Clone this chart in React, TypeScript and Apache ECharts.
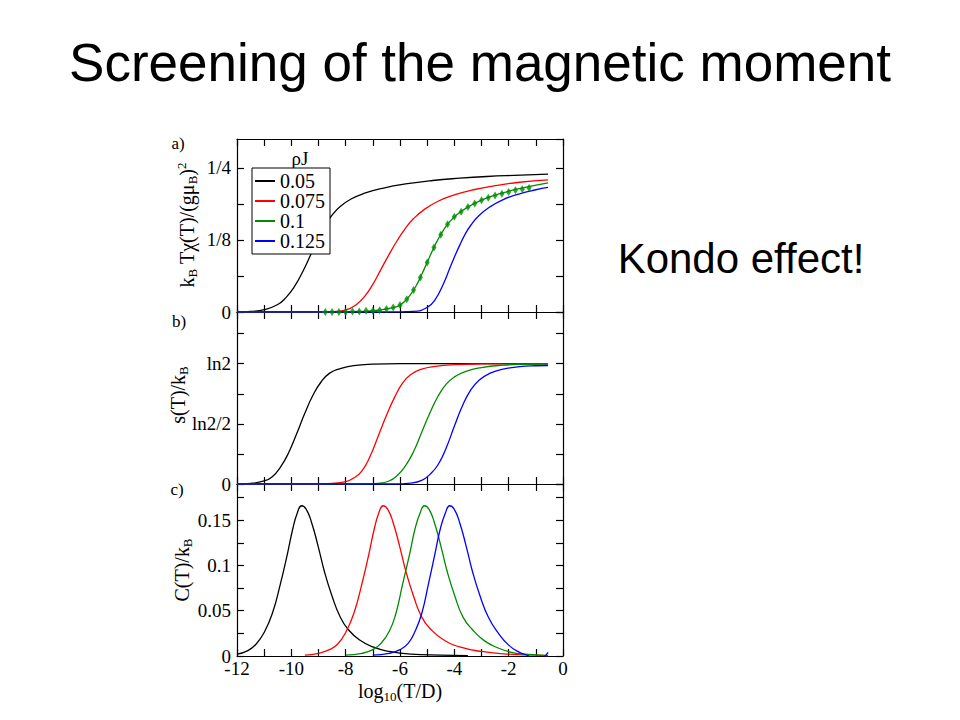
import React, { useEffect, useRef } from "react";
import * as echarts from "echarts";

// ---- categories / legend ----
const rhoJ = ["0.05", "0.075", "0.1", "0.125"];
const curveColors = ["#000000", "#ff0000", "#008b00", "#0000ff"];

// ---- x axis ----
const xMin = -12;
const xMax = 0;

// ---- panel a) k_B T chi(T)/(g mu_B)^2 ----
const chi005: [number, number][] = [
  [-12, 0.0], [-11.5, 0.001], [-11, 0.004], [-10.5, 0.013], [-10.2, 0.025], [-9.9, 0.043],
  [-9.6, 0.068], [-9.3, 0.098], [-9.05, 0.125], [-8.8, 0.148], [-8.5, 0.168], [-8.2, 0.183],
  [-7.8, 0.196], [-7.3, 0.206], [-6.6, 0.215], [-5.8, 0.222], [-4.8, 0.228], [-3.8, 0.232],
  [-2.8, 0.235], [-1.8, 0.237], [-0.55, 0.239],
];
const chi0075: [number, number][] = [
  [-12, 0], [-9, 0], [-8.3, 0.001], [-7.9, 0.005], [-7.6, 0.013], [-7.3, 0.027], [-7.0, 0.048],
  [-6.7, 0.074], [-6.4, 0.1], [-6.1, 0.124], [-5.8, 0.145], [-5.5, 0.162], [-5.1, 0.178],
  [-4.6, 0.192], [-4.0, 0.203], [-3.3, 0.212], [-2.5, 0.219], [-1.6, 0.225], [-0.55, 0.229],
];
const chi01: [number, number][] = [
  [-12, 0], [-8.8, 0], [-7.5, 0.001], [-6.8, 0.003], [-6.3, 0.007], [-6.0, 0.012], [-5.8, 0.02],
  [-5.6, 0.031], [-5.4, 0.046], [-5.2, 0.065], [-5.0, 0.086], [-4.8, 0.107], [-4.6, 0.126],
  [-4.4, 0.142], [-4.2, 0.155], [-3.9, 0.169], [-3.5, 0.182], [-3.0, 0.194], [-2.4, 0.204],
  [-1.7, 0.213], [-0.55, 0.224],
];
const chi0125: [number, number][] = [
  [-12, 0], [-6.5, 0], [-5.5, 0.001], [-5.0, 0.008], [-4.7, 0.022], [-4.4, 0.049], [-4.2, 0.072],
  [-4.0, 0.095], [-3.8, 0.116], [-3.6, 0.135], [-3.4, 0.15], [-3.1, 0.167], [-2.7, 0.182],
  [-2.2, 0.195], [-1.6, 0.205], [-1.0, 0.212], [-0.55, 0.216],
];
// NRG points (green markers) for rho J = 0.1
const chiMarkX = [
  -8.75, -8.5, -8.25, -8.0, -7.75, -7.5, -7.25, -7.0, -6.75, -6.5, -6.25, -6.0, -5.75, -5.5, -5.25,
  -5.0, -4.75, -4.5, -4.25, -4.0, -3.75, -3.5, -3.25, -3.0, -2.75, -2.5, -2.25, -2.0, -1.75, -1.5, -1.25,
];
const chiMarkY = [
  0, 0, 0, 0, 0.001, 0.001, 0.002, 0.002, 0.003, 0.005, 0.008, 0.012, 0.022, 0.038, 0.06, 0.086,
  0.112, 0.134, 0.152, 0.165, 0.174, 0.182, 0.188, 0.194, 0.198, 0.202, 0.205, 0.208, 0.211, 0.213, 0.215,
];
const chiTicks = ["0", "1/8", "1/4"];

// ---- panel b) s(T)/k_B, in units of ln2 ----
const s005: [number, number][] = [
  [-12, 0], [-11.5, 0.005], [-11, 0.025], [-10.7, 0.06], [-10.4, 0.14], [-10.1, 0.26], [-9.8, 0.42],
  [-9.5, 0.59], [-9.2, 0.74], [-8.9, 0.85], [-8.6, 0.92], [-8.2, 0.96], [-7.7, 0.985], [-7.0, 0.996],
  [-6.0, 1.0], [-0.55, 1.0],
];
const s0075: [number, number][] = [
  [-12, 0], [-9.2, 0], [-8.5, 0.005], [-8.0, 0.02], [-7.7, 0.05], [-7.4, 0.11], [-7.1, 0.23],
  [-6.8, 0.4], [-6.5, 0.57], [-6.2, 0.72], [-5.9, 0.84], [-5.6, 0.91], [-5.2, 0.955], [-4.7, 0.978],
  [-4.0, 0.992], [-3.0, 0.998], [-0.55, 1.0],
];
const s01: [number, number][] = [
  [-12, 0], [-7.5, 0], [-6.8, 0.006], [-6.4, 0.025], [-6.1, 0.07], [-5.8, 0.15], [-5.5, 0.27],
  [-5.2, 0.43], [-4.9, 0.59], [-4.6, 0.73], [-4.3, 0.83], [-4.0, 0.89], [-3.6, 0.935], [-3.0, 0.968],
  [-2.2, 0.988], [-1.4, 0.995], [-0.55, 0.997],
];
const s0125: [number, number][] = [
  [-12, 0], [-6.3, 0], [-5.6, 0.008], [-5.2, 0.03], [-4.9, 0.08], [-4.6, 0.16], [-4.3, 0.3],
  [-4.0, 0.48], [-3.7, 0.65], [-3.4, 0.78], [-3.1, 0.86], [-2.7, 0.92], [-2.2, 0.955], [-1.6, 0.975],
  [-1.0, 0.983], [-0.55, 0.985],
];
const sTicks = ["0", "ln2/2", "ln2"];

// ---- panel c) C(T)/k_B ----
const c005: [number, number][] = [
  [-12, 0.002], [-11.6, 0.006], [-11.3, 0.013], [-11.0, 0.026], [-10.7, 0.047], [-10.4, 0.08],
  [-10.15, 0.112], [-9.95, 0.14], [-9.78, 0.158], [-9.62, 0.166], [-9.45, 0.162], [-9.25, 0.147],
  [-9.02, 0.122], [-8.77, 0.092], [-8.5, 0.066], [-8.2, 0.043], [-7.9, 0.029], [-7.5, 0.018],
  [-7.0, 0.01], [-6.4, 0.005], [-5.6, 0.002], [-4.5, 0.001], [-3.5, 0.0005],
];
const c0075: [number, number][] = [
  [-9.5, 0.001], [-9.0, 0.003], [-8.6, 0.007], [-8.3, 0.013], [-8.0, 0.026], [-7.7, 0.047],
  [-7.4, 0.08], [-7.15, 0.112], [-6.95, 0.14], [-6.78, 0.158], [-6.62, 0.166], [-6.45, 0.162],
  [-6.25, 0.147], [-6.02, 0.122], [-5.77, 0.092], [-5.5, 0.066], [-5.2, 0.043], [-4.85, 0.029],
  [-4.4, 0.018], [-3.8, 0.01], [-3.0, 0.005], [-2.0, 0.002], [-1.0, 0.001], [-0.55, 0.0005],
];
const c01: [number, number][] = [
  [-8.0, 0.001], [-7.4, 0.003], [-7.0, 0.007], [-6.7, 0.014], [-6.4, 0.027], [-6.15, 0.047],
  [-5.9, 0.08], [-5.65, 0.112], [-5.45, 0.14], [-5.26, 0.158], [-5.1, 0.166], [-4.93, 0.162],
  [-4.73, 0.147], [-4.5, 0.122], [-4.25, 0.092], [-3.98, 0.066], [-3.68, 0.043], [-3.33, 0.029],
  [-2.9, 0.017], [-2.4, 0.009], [-1.9, 0.004], [-1.4, 0.002], [-0.55, 0.0005],
];
const c0125: [number, number][] = [
  [-7.0, 0.001], [-6.4, 0.003], [-6.0, 0.007], [-5.7, 0.014], [-5.45, 0.027], [-5.2, 0.047],
  [-4.95, 0.08], [-4.72, 0.112], [-4.52, 0.14], [-4.33, 0.158], [-4.17, 0.166], [-4.0, 0.162],
  [-3.8, 0.147], [-3.57, 0.122], [-3.32, 0.092], [-3.05, 0.066], [-2.75, 0.043], [-2.4, 0.026],
  [-2.0, 0.012], [-1.6, 0.004], [-1.3, 0.0005], [-1.0, -0.004], [-0.75, -0.002], [-0.55, 0.004],
];
const cTicks = ["0", "0.05", "0.1", "0.15"];

const SERIF = "Liberation Serif";
const SANS = "Liberation Sans";

export default function App() {
  const ref = useRef<HTMLDivElement>(null);

  useEffect(() => {
    if (!ref.current) return;
    const chart = echarts.init(ref.current, undefined, { renderer: "svg" });

    const gridL = 237;
    const gridW = 326;
    const tops = [139, 312, 484];
    const heights = [173, 172, 172];

    const near = (a: number, b: number) => Math.abs(a - b) < 1e-6;

    const yFormatters = [
      (v: number) => (near(v, 0) ? chiTicks[0] : near(v, 0.125) ? chiTicks[1] : near(v, 0.25) ? chiTicks[2] : ""),
      (v: number) => (near(v, 0) ? sTicks[0] : near(v, 0.5) ? sTicks[1] : near(v, 1) ? sTicks[2] : ""),
      (v: number) =>
        near(v, 0) ? cTicks[0] : near(v, 0.05) ? cTicks[1] : near(v, 0.1) ? cTicks[2] : near(v, 0.15) ? cTicks[3] : "",
    ];
    const yRanges = [
      { max: 0.3, interval: 0.0625 },
      { max: 1.43, interval: 0.25 },
      { max: 0.19, interval: 0.025 },
    ];

    const axisLine = { show: true, onZero: false, lineStyle: { color: "#000", width: 1.2 } };
    const axisTick = { show: true, inside: true, length: 7, lineStyle: { color: "#000", width: 1.2 } };
    const labelStyle = { color: "#000", fontFamily: SERIF, fontSize: 19 };

    const grids: any[] = [];
    const xAxes: any[] = [];
    const yAxes: any[] = [];
    for (let p = 0; p < 3; p++) {
      grids.push({ left: gridL, width: gridW, top: tops[p], height: heights[p], show: false });
      xAxes.push({
        type: "value", gridIndex: p, position: "bottom", min: xMin, max: xMax, interval: 1,
        axisLine, axisTick, splitLine: { show: false },
        axisLabel: {
          show: p === 2, ...labelStyle, margin: 3, showMinLabel: true, showMaxLabel: true,
          formatter: (v: number) => (Math.round(v) % 2 === 0 ? String(Math.round(v)) : ""),
        },
      });
      xAxes.push({
        type: "value", gridIndex: p, position: "top", min: xMin, max: xMax, interval: 1,
        axisLine, axisTick, splitLine: { show: false }, axisLabel: { show: false },
      });
      yAxes.push({
        type: "value", gridIndex: p, position: "left", min: 0, max: yRanges[p].max, interval: yRanges[p].interval,
        axisLine, axisTick, splitLine: { show: false },
        axisLabel: { ...labelStyle, margin: 6, showMinLabel: true, showMaxLabel: false, formatter: yFormatters[p] },
      });
      yAxes.push({
        type: "value", gridIndex: p, position: "right", min: 0, max: yRanges[p].max, interval: yRanges[p].interval,
        axisLine, axisTick, splitLine: { show: false }, axisLabel: { show: false },
      });
    }

    const panels = [
      [chi005, chi0075, chi01, chi0125],
      [s005, s0075, s01, s0125],
      [c005, c0075, c01, c0125],
    ];
    const series: any[] = [];
    panels.forEach((curves, p) => {
      curves.forEach((data, k) => {
        series.push({
          type: "line", name: rhoJ[k], xAxisIndex: p * 2, yAxisIndex: p * 2, data,
          smooth: 0.5, showSymbol: false, symbol: "none", clip: true,
          lineStyle: { color: curveColors[k], width: 1.3 }, itemStyle: { color: curveColors[k] },
          z: 2,
        });
      });
    });
    series.push({
      type: "scatter", name: "NRG", xAxisIndex: 0, yAxisIndex: 0,
      data: chiMarkX.map((x, i) => [x, chiMarkY[i]]),
      symbol: "diamond", symbolSize: [5, 8], itemStyle: { color: "#008b00" }, z: 3,
    });

    const richMain = { fontSize: 20, fontFamily: SERIF, color: "#000", lineHeight: 24, verticalAlign: "middle" };
    const richSub = { fontSize: 13, fontFamily: SERIF, color: "#000", lineHeight: 13, verticalAlign: "bottom" };
    const richSup = { fontSize: 13, fontFamily: SERIF, color: "#000", lineHeight: 13, verticalAlign: "top" };
    const rich = { m: richMain, s: richSub, p: richSup };

    const rotText = (x: number, y: number, text: string) => ({
      type: "text", x, y, rotation: Math.PI / 2,
      style: { text, rich, textAlign: "center", textVerticalAlign: "middle", align: "center", verticalAlign: "middle" },
    });
    const plainText = (x: number, y: number, text: string, fontSize: number, fontFamily: string) => ({
      type: "text", x, y,
      style: {
        text, fontSize, fontFamily, fill: "#000",
        textAlign: "center", textVerticalAlign: "middle", align: "center", verticalAlign: "middle",
      },
    });

    chart.setOption({
      animation: false,
      backgroundColor: "#ffffff",
      grid: grids,
      xAxis: xAxes,
      yAxis: yAxes,
      series,
      legend: {
        data: rhoJ,
        orient: "vertical",
        left: 252,
        top: 168,
        itemWidth: 20,
        itemHeight: 2,
        itemGap: 0,
        icon: "rect",
        padding: [3, 5, 3, 3],
        borderColor: "#000",
        borderWidth: 1,
        backgroundColor: "#fff",
        selectedMode: false,
        textStyle: { fontFamily: SERIF, fontSize: 20, lineHeight: 17.5, color: "#000" },
      },
      graphic: [
        plainText(480, 62, "Screening of the magnetic moment", 53, SANS),
        plainText(741, 258, "Kondo effect!", 42, SANS),
        plainText(178, 143, "a)", 17, SERIF),
        plainText(179, 321, "b)", 17, SERIF),
        plainText(177, 489, "c)", 17, SERIF),
        plainText(300, 158, "ρJ", 19, SERIF),
        rotText(187, 225, "{m|k}{s|B}{m| Tχ(T)/(gμ}{s|B}{m|)}{p|2}"),
        rotText(178, 395, "{m|s(T)/k}{s|B}"),
        rotText(182, 570, "{m|C(T)/k}{s|B}"),
        {
          type: "text", x: 400, y: 691,
          style: {
            text: "{m|log}{s|10}{m|(T/D)}", rich,
            textAlign: "center", textVerticalAlign: "middle", align: "center", verticalAlign: "middle",
          },
        },
      ],
    });

    return () => chart.dispose();
  }, []);

  return (
    <div
      ref={ref}
      style={{ position: "fixed", left: 0, top: 0, width: 960, height: 720, background: "#fff" }}
    />
  );
}
